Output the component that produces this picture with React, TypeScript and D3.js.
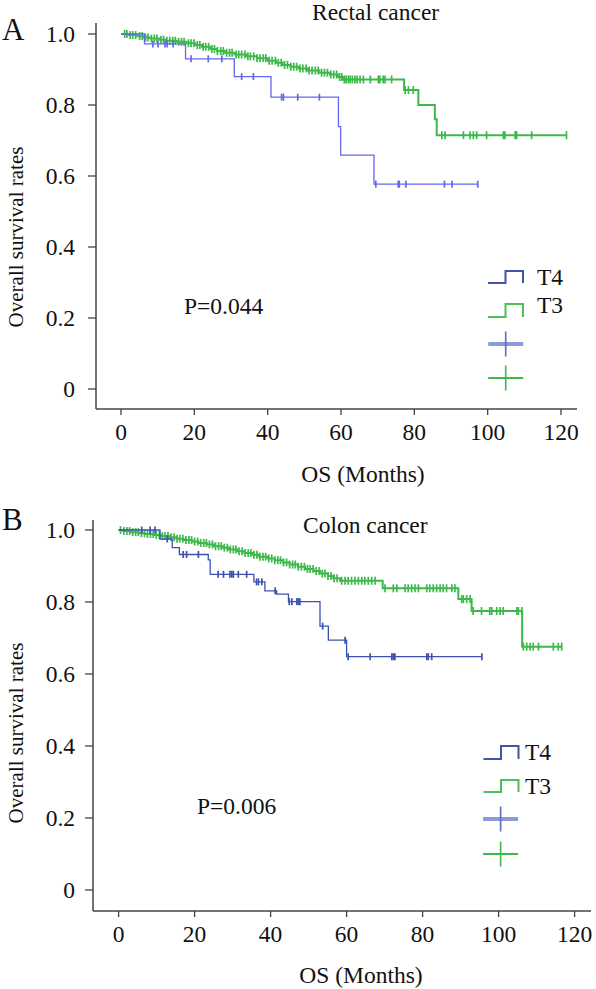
import React from "react";
import * as d3 from "d3";

// ---------- DATA ----------
const xTicks = [0, 20, 40, 60, 80, 100, 120];
const yTicks = [0, 0.2, 0.4, 0.6, 0.8, 1.0];
const yTickLabels = ["0", "0.2", "0.4", "0.6", "0.8", "1.0"];
const legendLabels = ["T4", "T3"];

// Panel A: Rectal cancer
const rectalT4Events: [number, number][] = [
  [6.4, 0.972], [17.6, 0.93], [30.9, 0.88], [40.9, 0.822], [59.3, 0.739], [59.9, 0.659], [69.0, 0.577],
];
const rectalT4End = 97.3;
const rectalT4Censor = [8.7, 10.1, 12.0, 12.6, 14.2, 19.1, 23.8, 27.5, 32.9, 36.1, 43.8, 44.3, 48.2, 54.1, 69.5, 75.6, 75.9, 77.7, 88.2, 90.3, 97.3];

const rectalT3Events: [number, number][] = [
  [2.1, 0.997], [4.5, 0.994], [6.2, 0.99], [8.1, 0.987], [10.5, 0.984], [12.3, 0.981], [15.2, 0.978], [17.9, 0.974],
  [20.2, 0.969], [22.1, 0.964], [24.4, 0.958], [26.2, 0.952], [28.3, 0.947], [31.0, 0.942], [34.2, 0.937], [37.1, 0.932],
  [40.0, 0.925], [42.3, 0.919], [44.1, 0.913], [46.2, 0.908], [48.4, 0.903], [51.0, 0.897], [54.1, 0.891], [57.0, 0.886],
  [59.1, 0.879], [60.5, 0.872], [77.2, 0.842], [81.1, 0.8], [85.6, 0.76], [86.1, 0.715],
];
const rectalT3End = 121.5;
const rectalT3Censor = [
  1.0, 1.6, 2.5, 3.2, 4.0, 5.1, 5.8, 6.7, 7.4, 8.3, 9.1, 9.8, 10.9, 11.6, 12.5, 13.3, 14.1, 14.8, 15.7, 16.5, 17.2, 18.4,
  19.1, 19.9, 20.8, 21.5, 22.4, 23.1, 23.9, 24.8, 25.5, 26.3, 27.2, 27.9, 28.8, 29.6, 30.3, 31.4, 32.1, 32.9, 33.8, 34.6,
  35.3, 36.2, 37.1, 37.9, 38.8, 39.5, 40.4, 41.2, 42.1, 42.9, 43.7, 44.6, 45.4, 46.3, 47.1, 47.9, 48.8, 49.6, 50.5, 51.3,
  52.1, 53.0, 53.8, 54.7, 55.5, 56.3, 57.2, 58.0, 58.8, 59.6, 60.2, 60.9, 61.4, 62.0, 62.5, 63.1, 63.8, 64.4, 65.2, 66.1,
  68.0, 70.2, 70.6, 71.5, 72.0, 73.8, 77.5, 78.4, 79.7, 87.5, 88.4, 93.4, 95.2, 96.1, 97.0, 99.7, 104.3, 104.7, 107.5,
  107.9, 112.0, 121.5,
];

// Panel B: Colon cancer
const colonT4Events: [number, number][] = [
  [10.9, 0.975], [14.1, 0.951], [16.0, 0.932], [23.6, 0.917], [24.1, 0.877], [35.6, 0.856], [38.5, 0.831],
  [41.6, 0.822], [44.7, 0.801], [53.0, 0.733], [55.2, 0.694], [60.0, 0.648],
];
const colonT4End = 95.6;
const colonT4Censor = [6.1, 8.3, 9.6, 12.8, 17.0, 17.9, 21.0, 26.2, 27.6, 29.3, 29.8, 30.2, 31.5, 33.7, 36.3, 36.8, 37.7, 41.2, 44.9, 45.6, 46.9, 47.3, 47.7, 53.7, 59.6, 60.4, 66.2, 71.9, 72.3, 72.7, 81.1, 81.5, 82.4, 95.6];

const colonT3Events: [number, number][] = [
  [1.2, 0.997], [3.1, 0.994], [5.3, 0.991], [7.0, 0.989], [9.2, 0.986], [11.1, 0.983], [13.4, 0.98], [15.2, 0.976],
  [17.1, 0.972], [19.3, 0.968], [21.0, 0.964], [23.2, 0.96], [25.1, 0.955], [27.4, 0.951], [29.0, 0.946], [31.2, 0.941],
  [33.1, 0.936], [35.3, 0.931], [37.0, 0.926], [39.2, 0.921], [41.1, 0.916], [43.3, 0.91], [45.0, 0.904], [47.2, 0.898],
  [49.1, 0.892], [51.3, 0.886], [53.0, 0.879], [55.1, 0.872], [56.5, 0.866], [58.3, 0.859], [69.5, 0.838], [89.4, 0.808],
  [92.9, 0.775], [106.2, 0.676],
];
const colonT3End = 116.6;
const colonT3Censor = [
  0.5, 1.4, 2.2, 2.9, 3.7, 4.5, 5.2, 6.0, 6.8, 7.6, 8.4, 9.1, 9.9, 10.7, 11.5, 12.2, 13.0, 13.8, 14.6, 15.4, 16.1, 16.9,
  17.7, 18.5, 19.2, 20.0, 20.8, 21.6, 22.4, 23.1, 23.9, 24.7, 25.5, 26.3, 27.0, 27.8, 28.6, 29.4, 30.2, 30.9, 31.7, 32.5,
  33.3, 34.1, 34.8, 35.6, 36.4, 37.2, 38.0, 38.7, 39.5, 40.3, 41.1, 41.9, 42.6, 43.4, 44.2, 45.0, 45.8, 46.5, 47.3, 48.1,
  48.9, 49.7, 50.4, 51.2, 52.0, 52.8, 53.6, 54.3, 55.1, 55.9, 56.7, 57.5, 58.7, 59.6, 60.4, 61.3, 62.2, 63.1, 64.0, 64.8,
  65.7, 66.6, 67.5, 70.1, 72.3, 73.2, 75.4, 76.2, 77.1, 78.0, 78.9, 81.1, 81.9, 82.8, 83.7, 84.6, 85.4, 86.3, 87.7, 88.5,
  90.3, 90.7, 91.6, 92.5, 93.3, 95.5, 97.7, 98.2, 99.5, 100.4, 101.2, 104.8, 105.2, 106.1, 106.5, 107.4, 108.3, 109.1,
  110.5, 114.4, 115.7, 116.6,
];

// ---------- RENDERING ----------
const FONT = "'Liberation Serif', 'Times New Roman', serif";
const GREEN = "#3cb94a";
const FS = 23.5;

function survivalAt(events: [number, number][], t: number) {
  let s = 1;
  for (const [et, es] of events) {
    if (et <= t) s = es;
    else break;
  }
  return s;
}

type Series = { events: [number, number][]; end: number; censor: number[]; color: string; tick: number; width: number };

type PanelProps = {
  letter: string;
  title: string;
  pText: string;
  series: Series[];
  L: {
    axisX: number; axisTop: number; axisBottom: number; axisRight: number;
    x0: number; x1: number; y0: number; y1: number;
    letterY: number; titleX: number; titleY: number;
    xLabelX: number; xLabelY: number; tickLabelY: number;
    yLabelY: number; pX: number; pY: number;
    legX: number; legTextX: number; legSym: [number, number][]; legTextY: number[];
    plusX: number; plusY: number[];
  };
  legendColors: { step: string[]; plusH: string[]; plusV: string[] };
};

function Panel({ letter, title, pText, series, L, legendColors }: PanelProps) {
  const x = d3.scaleLinear().domain([0, 120]).range([L.x0, L.x1]);
  const y = d3.scaleLinear().domain([0, 1]).range([L.y0, L.y1]);
  const line = d3
    .line<[number, number]>()
    .x((d) => x(d[0]))
    .y((d) => y(d[1]))
    .curve(d3.curveStepAfter);

  return (
    <g fontFamily={FONT} fill="#111">
      <text x={2} y={L.letterY} fontSize={31}>{letter}</text>
      <text x={L.titleX} y={L.titleY} fontSize={FS}>{title}</text>
      {/* axes */}
      <line x1={L.axisX} x2={L.axisX} y1={L.axisTop} y2={L.axisBottom} stroke="#444" strokeWidth={1.5} />
      <line x1={L.axisX} x2={L.axisRight} y1={L.axisBottom} y2={L.axisBottom} stroke="#444" strokeWidth={1.5} />
      {yTicks.map((t, i) => (
        <g key={"y" + i}>
          <line x1={L.axisX - 8} x2={L.axisX} y1={y(t)} y2={y(t)} stroke="#444" strokeWidth={1.3} />
          <text x={75} y={y(t) + 8} fontSize={FS} textAnchor="end">{yTickLabels[i]}</text>
        </g>
      ))}
      {xTicks.map((t, i) => (
        <g key={"x" + i}>
          <line x1={x(t)} x2={x(t)} y1={L.axisBottom} y2={L.axisBottom + 6} stroke="#444" strokeWidth={1.3} />
          <text x={x(t)} y={L.tickLabelY} fontSize={FS} textAnchor="middle">{String(t)}</text>
        </g>
      ))}
      <text x={L.xLabelX} y={L.xLabelY} fontSize={FS} textAnchor="middle">OS (Months)</text>
      <text
        transform={`translate(23,${L.yLabelY}) rotate(-90)`}
        fontSize={21}
        textAnchor="middle"
      >
        Overall survival rates
      </text>
      <text x={L.pX} y={L.pY} fontSize={FS}>{pText}</text>
      {/* curves */}
      {series.map((s, si) => {
        const pts: [number, number][] = [[0, 1], ...s.events, [s.end, s.events[s.events.length - 1][1]]];
        return (
          <g key={"s" + si}>
            <path d={line(pts) || ""} fill="none" stroke={s.color} strokeWidth={s.width} />
            {s.censor.map((c, ci) => {
              const sv = survivalAt(s.events, c);
              return (
                <line key={ci} x1={x(c)} x2={x(c)} y1={y(sv) - s.tick} y2={y(sv) + s.tick} stroke={s.color} strokeWidth={1.7} />
              );
            })}
          </g>
        );
      })}
      {/* legend */}
      {legendLabels.map((lab, i) => {
        const [top, bot] = L.legSym[i];
        const a = L.legX, w = 35;
        return (
          <g key={"lg" + i}>
            <path
              d={`M${a},${bot} H${a + w / 2} V${top} H${a + w} V${bot}`}
              fill="none"
              stroke={legendColors.step[i]}
              strokeWidth={2}
            />
            <text x={L.legTextX} y={L.legTextY[i]} fontSize={FS}>{lab}</text>
          </g>
        );
      })}
      {L.plusY.map((py, i) => (
        <g key={"pl" + i}>
          <line x1={L.plusX - 17.5} x2={L.plusX + 17.5} y1={py} y2={py} stroke={legendColors.plusH[i]} strokeWidth={i === 0 ? 4 : 2} />
          <line x1={L.plusX} x2={L.plusX} y1={py - 12.5} y2={py + 12.5} stroke={legendColors.plusV[i]} strokeWidth={1.6} />
        </g>
      ))}
    </g>
  );
}

export default function App() {
  const layoutA = {
    axisX: 96, axisTop: 23, axisBottom: 409, axisRight: 577,
    x0: 121, x1: 561, y0: 389, y1: 34,
    letterY: 40, titleX: 312, titleY: 20,
    xLabelX: 363, xLabelY: 482, tickLabelY: 440,
    yLabelY: 237, pX: 184, pY: 314,
    legX: 488, legTextX: 537, legSym: [[271, 283], [304, 317]] as [number, number][], legTextY: [285, 313],
    plusX: 505.7, plusY: [344, 378],
  };
  const layoutB = {
    axisX: 93, axisTop: 520, axisBottom: 911, axisRight: 591,
    x0: 118.6, x1: 574.6, y0: 890, y1: 530,
    letterY: 530, titleX: 303, titleY: 533,
    xLabelX: 361, xLabelY: 983, tickLabelY: 942,
    yLabelY: 733, pX: 197, pY: 814,
    legX: 483.5, legTextX: 525, legSym: [[746, 759], [780, 792]] as [number, number][], legTextY: [760, 794],
    plusX: 500.6, plusY: [819, 854],
  };
  return (
    <svg
      width={596}
      height={989}
      viewBox="0 0 596 989"
      style={{ position: "absolute", left: 0, top: 0, background: "#fff" }}
    >
      <rect width={596} height={989} fill="#fff" />
      <Panel
        letter="A"
        title="Rectal cancer"
        pText="P=0.044"
        L={layoutA}
        series={[
          { events: rectalT3Events, end: rectalT3End, censor: rectalT3Censor, color: GREEN, tick: 4, width: 2 },
          { events: rectalT4Events, end: rectalT4End, censor: rectalT4Censor, color: "#6666ee", tick: 3.5, width: 1.3 },
        ]}
        legendColors={{ step: ["#3f55a8", "#4cc05a"], plusH: ["#8c9bd8", GREEN], plusV: ["#5a6cc0", GREEN] }}
      />
      <Panel
        letter="B"
        title="Colon cancer"
        pText="P=0.006"
        L={layoutB}
        series={[
          { events: colonT3Events, end: colonT3End, censor: colonT3Censor, color: GREEN, tick: 4, width: 2 },
          { events: colonT4Events, end: colonT4End, censor: colonT4Censor, color: "#3d52b0", tick: 3.5, width: 1.3 },
        ]}
        legendColors={{ step: ["#3f55a8", "#4cc05a"], plusH: ["#8c9bd8", GREEN], plusV: ["#5a6cc0", GREEN] }}
      />
    </svg>
  );
}
